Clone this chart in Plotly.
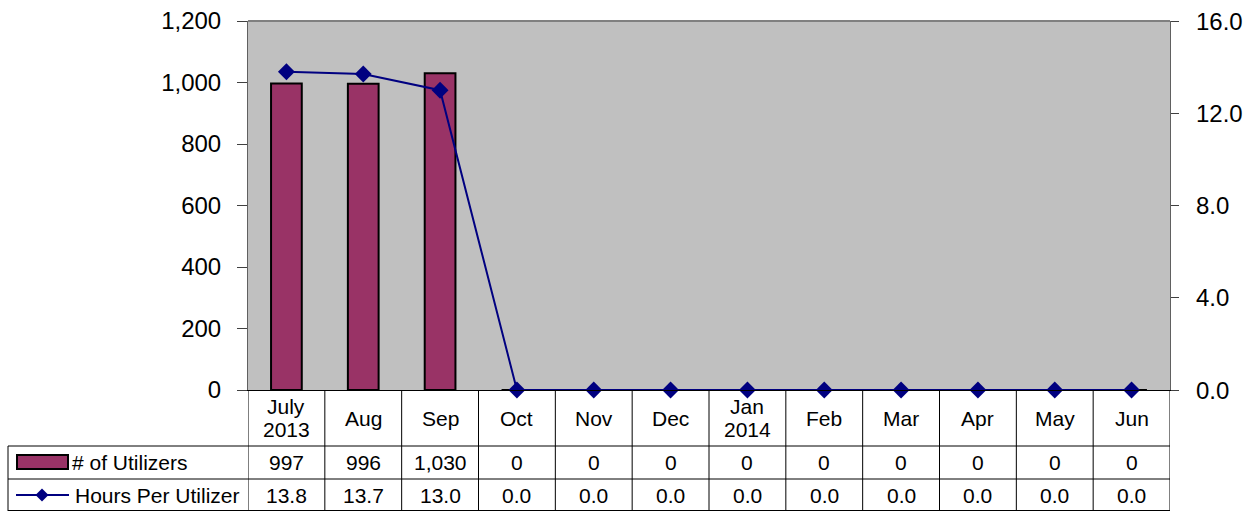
import plotly.graph_objects as go

months = ["July\n2013", "Aug", "Sep", "Oct", "Nov", "Dec", "Jan\n2014", "Feb", "Mar", "Apr", "May", "Jun"]
utilizers = [997, 996, 1030, 0, 0, 0, 0, 0, 0, 0, 0, 0]
hours = [13.8, 13.7, 13.0, 0.0, 0.0, 0.0, 0.0, 0.0, 0.0, 0.0, 0.0, 0.0]
left_ticks = [0, 200, 400, 600, 800, 1000, 1200]
right_ticks = [0, 4, 8, 12, 16]

W, H = 1252, 511
L, R, T, B = 248, 1170, 21, 390
PW, PH = R - L, B - T

def px(x):
    return (x - L) / PW

def py(y):
    return (B - y) / PH

FONT = "Liberation Sans, Arial, sans-serif"
BAR_COLOR = "#993366"
LINE_COLOR = "#000080"
TFONT = dict(size=21, family=FONT, color="black")
AFONT = dict(size=24, family=FONT, color="black")

xs = list(range(len(months)))

fig = go.Figure()
fig.add_trace(go.Bar(x=xs, y=utilizers, name="# of Utilizers",
                     marker=dict(color=BAR_COLOR, line=dict(color="black", width=2)),
                     width=0.40, yaxis="y"))
fig.add_trace(go.Scatter(x=xs, y=hours, name="Hours Per Utilizer", mode="lines+markers",
                         line=dict(color=LINE_COLOR, width=2),
                         marker=dict(symbol="diamond", size=13, color=LINE_COLOR),
                         yaxis="y2", cliponaxis=False))

shapes = []
annotations = []
line_style = dict(color="black", width=1)

# table horizontal lines
for yy in [446, 479, 510.5]:
    shapes.append(dict(type="line", xref="paper", yref="paper", x0=px(8), x1=px(R),
                       y0=py(yy), y1=py(yy), line=line_style))
# column lines
for i in range(len(months) + 1):
    shapes.append(dict(type="line", xref="x", yref="paper", x0=i - 0.5, x1=i - 0.5,
                       y0=0, y1=py(511), line=line_style))
# left edge of label column
shapes.append(dict(type="line", xref="paper", yref="paper", x0=px(8), x1=px(8),
                   y0=py(446), y1=py(511), line=line_style))

def ann(x, y, text, xref="x", xanchor="center", yref="paper", font=TFONT):
    annotations.append(dict(x=x, y=y, xref=xref, yref=yref, text=text, showarrow=False,
                            xanchor=xanchor, yanchor="middle", font=font))

# month labels and values
for i, m in enumerate(months):
    parts = m.split("\n")
    if len(parts) == 1:
        ann(i, py(418), parts[0])
    else:
        ann(i, py(407), parts[0])
        ann(i, py(429), parts[1])
    ann(i, py(462.5), f"{utilizers[i]:,}")
    ann(i, py(495), f"{hours[i]:.1f}")

# right axis tick labels (placed on the y2 scale)
for v in right_ticks:
    ann(px(1194), v, f"{v:.1f}", xref="paper", xanchor="left", yref="y2", font=AFONT)

# legend keys in table
shapes.append(dict(type="rect", xref="paper", yref="paper", x0=px(17), x1=px(68),
                   y0=py(469), y1=py(455), fillcolor=BAR_COLOR, line=dict(color="black", width=2)))
shapes.append(dict(type="line", xref="paper", yref="paper", x0=px(16), x1=px(69),
                   y0=py(495), y1=py(495), line=dict(color=LINE_COLOR, width=2)))
dcx, dcy, dr = 42, 495, 6.5
path = (f"M {px(dcx - dr)} {py(dcy)} L {px(dcx)} {py(dcy - dr)} "
        f"L {px(dcx + dr)} {py(dcy)} L {px(dcx)} {py(dcy + dr)} Z")
shapes.append(dict(type="path", xref="paper", yref="paper", path=path,
                   fillcolor=LINE_COLOR, line=dict(color=LINE_COLOR, width=0)))
ann(px(70), py(462.5), "# of Utilizers", xref="paper", xanchor="left")
ann(px(73), py(495), "Hours Per Utilizer", xref="paper", xanchor="left")

# plot area top border
shapes.append(dict(type="line", xref="paper", yref="paper", x0=0, x1=1, y0=1, y1=1,
                   line=dict(color="#808080", width=2)))

fig.update_layout(
    width=W, height=H,
    margin=dict(l=L, r=W - R, t=T, b=H - B, pad=0, autoexpand=False),
    paper_bgcolor="white", plot_bgcolor="#C0C0C0",
    showlegend=False,
    bargap=0.6,
    font=dict(family=FONT, size=24, color="black"),
    xaxis=dict(range=[-0.5, len(months) - 0.5], showticklabels=False, ticks="",
               showgrid=False, zeroline=False, showline=True, linecolor="black", linewidth=1),
    yaxis=dict(range=[0, 1200], tickvals=left_ticks, tickformat=",", ticks="outside",
               ticklen=10, tickcolor="#404040", showgrid=False, zeroline=False,
               showline=True, linecolor="#606060", linewidth=1, ticklabelstandoff=11,
               automargin=False, tickfont=AFONT),
    yaxis2=dict(range=[0, 16], tickvals=right_ticks, showticklabels=False, ticks="outside",
                ticklen=8, tickcolor="#404040", overlaying="y", side="right", showgrid=False,
                zeroline=False, showline=True, linecolor="#606060", linewidth=1,
                automargin=False),
    shapes=shapes,
    annotations=annotations,
)

fig.write_html("out.html", config={"displayModeBar": False},
               post_script="document.body.style.margin='0';document.body.style.overflow='hidden';")
